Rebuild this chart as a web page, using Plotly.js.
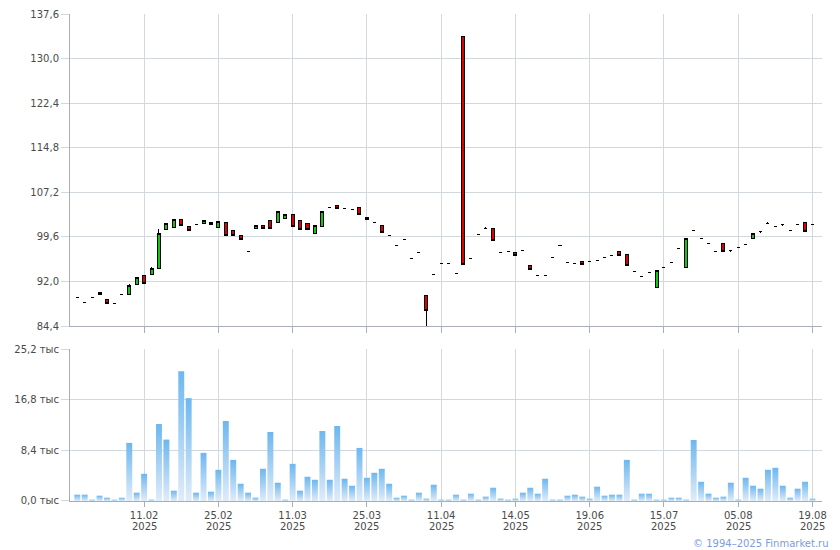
<!DOCTYPE html>
<html>
<head>
<meta charset="utf-8">
<script src="https://cdn.plot.ly/plotly-3.0.1.min.js"></script>
<style>
html,body{margin:0;padding:0;background:#fff;}
#chart{width:840px;height:550px;}
</style>
</head>
<body>
<div id="chart"></div>
<script>
// Trading days (category axis)
const dates = [
"29.01.2025","30.01.2025","31.01.2025","03.02.2025","04.02.2025","05.02.2025","06.02.2025","07.02.2025","10.02.2025","11.02.2025",
"12.02.2025","13.02.2025","14.02.2025","17.02.2025","18.02.2025","19.02.2025","20.02.2025","21.02.2025","24.02.2025","25.02.2025",
"26.02.2025","27.02.2025","28.02.2025","03.03.2025","04.03.2025","05.03.2025","06.03.2025","07.03.2025","10.03.2025","11.03.2025",
"12.03.2025","13.03.2025","14.03.2025","17.03.2025","18.03.2025","19.03.2025","20.03.2025","21.03.2025","24.03.2025","25.03.2025",
"26.03.2025","27.03.2025","28.03.2025","31.03.2025","01.04.2025","02.04.2025","04.04.2025","08.04.2025","09.04.2025","11.04.2025",
"15.04.2025","17.04.2025","21.04.2025","23.04.2025","25.04.2025","29.04.2025","05.05.2025","07.05.2025","12.05.2025","14.05.2025",
"16.05.2025","20.05.2025","23.05.2025","28.05.2025","30.05.2025","04.06.2025","06.06.2025","11.06.2025","17.06.2025","19.06.2025",
"23.06.2025","25.06.2025","27.06.2025","01.07.2025","03.07.2025","07.07.2025","09.07.2025","10.07.2025","14.07.2025","15.07.2025",
"17.07.2025","18.07.2025","21.07.2025","22.07.2025","24.07.2025","25.07.2025","28.07.2025","30.07.2025","01.08.2025","05.08.2025",
"06.08.2025","07.08.2025","08.08.2025","11.08.2025","12.08.2025","13.08.2025","14.08.2025","15.08.2025","18.08.2025","19.08.2025"
];

const opens = [89.2,88.45,89.2,90.14,89.0,88.3,89.8,89.75,91.44,93.0,
93.13,94.2,100.9,101.12,102.64,101.29,101.68,101.8,101.63,101.12,
102.13,100.61,99.77,97.07,101.06,101.46,102.47,102.08,102.75,103.48,
102.47,101.96,100.22,101.4,104.67,105.0,104.38,104.33,104.67,102.64,
102.13,101.46,99.77,98.08,99.09,95.88,96.95,89.63,93.18,95.04,
95.04,93.35,133.7,95.88,99.94,101.06,100.95,96.9,97.07,96.9,
97.23,94.7,93.0,93.0,96.05,98.08,95.2,95.1,95.38,95.38,
95.55,96.05,96.39,97.07,96.56,93.69,92.84,93.52,90.93,94.36,
95.2,97.57,94.31,100.61,99.26,98.42,97.07,98.42,97.23,97.74,
98.25,99.26,100.44,101.96,101.29,101.63,100.61,101.63,102.13,101.63];

const highs = [89.2,88.45,89.2,90.14,89.0,88.3,89.8,91.5,92.67,93.0,
94.42,100.95,101.96,102.64,102.64,101.29,101.68,102.47,102.02,102.3,
102.13,100.61,99.77,97.07,101.46,101.46,102.47,103.99,103.48,103.48,
102.47,101.96,101.46,103.99,104.67,105.0,104.38,104.33,104.67,102.98,
102.13,101.46,99.77,98.08,99.09,95.88,96.95,89.63,93.18,95.04,
95.04,93.35,133.7,95.88,99.94,101.3,100.95,96.9,97.07,96.9,
97.23,94.7,93.0,93.0,96.05,98.08,95.2,95.1,95.38,95.38,
95.55,96.05,96.39,97.07,96.56,93.69,92.84,93.52,93.86,94.36,
95.2,97.57,99.26,100.61,99.26,98.42,97.07,98.42,97.23,97.74,
98.25,100.11,100.44,102.15,101.29,101.63,100.61,101.63,102.13,101.63];

const lows = [89.2,88.45,89.2,89.75,88.2,88.3,89.8,89.75,91.44,91.66,
93.13,94.2,100.9,101.12,101.57,100.73,101.68,101.8,101.63,101.12,
99.88,99.88,99.2,97.07,101.06,101.06,101.06,102.08,102.75,101.4,
100.9,100.9,100.22,101.4,104.67,104.44,104.38,104.33,103.48,102.64,
102.13,100.27,99.77,98.08,99.09,95.88,96.95,84.2,93.18,95.04,
95.04,93.35,94.81,95.88,99.94,101.06,99.04,96.9,97.07,96.5,
97.23,94.03,93.0,93.0,96.05,98.08,95.2,95.1,94.81,95.38,
95.55,96.05,96.39,96.5,94.7,93.69,92.84,93.52,90.93,94.36,
95.2,97.57,94.31,100.61,99.26,98.42,97.07,97.07,97.0,97.74,
98.25,99.26,100.25,101.96,101.29,101.45,100.61,101.63,100.55,101.63];

const closes = [89.2,88.45,89.2,89.75,88.2,88.3,89.8,91.38,92.67,91.66,
94.2,100.16,101.96,102.64,101.57,100.73,101.68,102.47,102.02,102.3,
99.88,99.88,99.2,97.07,101.46,101.06,101.06,103.99,103.48,101.4,
100.9,100.9,101.46,103.99,104.67,104.44,104.38,104.33,103.48,102.98,
102.13,100.27,99.77,98.08,99.09,95.88,96.95,87.04,93.18,95.04,
95.04,93.35,94.81,95.88,99.94,101.06,99.04,96.9,97.07,96.5,
97.23,94.03,93.0,93.0,96.05,98.08,95.2,95.1,94.81,95.38,
95.55,96.05,96.39,96.5,94.7,93.69,92.84,93.52,93.86,94.36,
95.2,97.57,99.26,100.61,99.26,98.42,97.07,97.07,97.23,97.74,
98.25,100.11,100.44,101.96,101.29,101.63,100.61,101.63,100.55,101.63];

// Volume, thousands
const volumes = [1.05,1.05,0.22,0.88,0.55,0.22,0.55,9.63,1.38,4.51,
0.22,12.76,10.18,1.71,21.5,17.05,1.38,7.98,1.54,5.17,
13.26,6.82,2.86,1.38,0.55,5.34,11.44,3.03,0.22,6.16,
1.71,4.02,3.52,11.6,3.52,12.43,3.69,2.53,8.8,3.85,
4.68,5.34,2.86,0.55,0.88,0.22,1.38,0.39,2.7,0.22,
0.22,1.05,0.22,1.21,0.22,0.72,2.2,0.39,0.22,0.39,
1.38,2.2,1.21,3.69,0.22,0.22,0.88,1.05,0.72,0.39,
2.37,0.88,1.05,1.05,6.82,0.22,1.21,1.21,0.22,0.22,
0.55,0.55,0.22,10.12,3.19,1.21,0.55,0.72,3.03,0.22,
3.85,2.53,2.04,5.17,5.5,2.53,0.55,2.04,3.19,0.39];

const tickDates = ["11.02.2025","25.02.2025","11.03.2025","25.03.2025","11.04.2025","14.05.2025","19.06.2025","15.07.2025","05.08.2025","19.08.2025"];
const priceTicks = [84.4,92.0,99.6,107.2,114.8,122.4,130.0,137.6];
const volumeTicks = [0,8.4,16.8,25.2];

const fmt = v => v.toFixed(1).replace('.', ',');
const tickDayMonth = tickDates.map(d => d.slice(0,5));
const tickYear = tickDates.map(d => d.slice(6));

const FONT = 'DejaVu Sans, Verdana, sans-serif';
const GRID = '#d3d8dc';
const AXIS = '#a9adb6';
const TICKFONT = {family: FONT, size: 10, color: '#4a4a4a'};

const xCommon = {
  type: 'category',
  range: [-0.98, 100.28],
  tickmode: 'array',
  tickvals: tickDates,
  showgrid: true, gridcolor: GRID, gridwidth: 1,
  showline: true, linecolor: AXIS, linewidth: 1,
  ticks: 'outside', ticklen: 6, tickcolor: AXIS,
  zeroline: false,
  rangeslider: {visible: false},
  fixedrange: true
};

const data = [
  {
    type: 'candlestick',
    x: dates, open: opens, high: highs, low: lows, close: closes,
    xaxis: 'x', yaxis: 'y',
    increasing: {line: {color: '#000000', width: 1}, fillcolor: '#10c810'},
    decreasing: {line: {color: '#000000', width: 1}, fillcolor: '#dd0000'},
    whiskerwidth: 0,
    hoverinfo: 'none',
    showlegend: false
  },
  {
    type: 'bar',
    x: dates, y: volumes,
    xaxis: 'x2', yaxis: 'y2',
    marker: {color: '#9fcdf3', line: {width: 0}},
    hoverinfo: 'none',
    showlegend: false
  }
];

const annotations = tickDates.map((d, i) => ({
  xref: 'x2', yref: 'paper', x: d, y: -0.0524, xanchor: 'center', yanchor: 'middle',
  text: tickYear[i], showarrow: false,
  font: TICKFONT
}));
annotations.push({
  xref: 'paper', yref: 'paper', x: 1.012, y: -0.0875, xanchor: 'right', yanchor: 'middle',
  text: '© 1994–2025 Finmarket.ru', showarrow: false,
  font: {family: FONT, size: 10, color: '#7b9ce2'}
});

const layout = {
  width: 840, height: 550,
  margin: {l: 70, r: 18, t: 14, b: 49},
  paper_bgcolor: '#ffffff', plot_bgcolor: '#ffffff',
  separators: ', ',
  font: {family: FONT, size: 10, color: '#4a4a4a'},
  showlegend: false,
  boxgap: 0.42,
  bargap: 0.2,
  xaxis: Object.assign({}, xCommon, {anchor: 'y', showticklabels: false}),
  xaxis2: Object.assign({}, xCommon, {anchor: 'y2', matches: 'x', showticklabels: true, ticktext: tickDayMonth, tickfont: TICKFONT, ticklen: 5}),
  yaxis: {
    domain: [0.3593, 1],
    range: [84.4, 137.6],
    tickmode: 'array', tickvals: priceTicks, ticktext: priceTicks.map(fmt),
    showgrid: true, gridcolor: GRID,
    showline: true, linecolor: AXIS,
    ticks: 'outside', ticklen: 8, tickcolor: GRID,
    tickfont: TICKFONT,
    zeroline: false, fixedrange: true
  },
  yaxis2: {
    domain: [0, 0.3121],
    range: [0, 25.2],
    tickmode: 'array', tickvals: volumeTicks, ticktext: volumeTicks.map(v => fmt(v) + ' тыс'),
    showgrid: true, gridcolor: GRID,
    showline: true, linecolor: AXIS,
    ticks: 'outside', ticklen: 8, tickcolor: GRID,
    tickfont: TICKFONT,
    zeroline: false, fixedrange: true
  },
  annotations: annotations
};

Plotly.newPlot('chart', data, layout, {displayModeBar: false, staticPlot: true}).then(gd => {
  const svg = gd.querySelector('.main-svg');
  let defs = svg.querySelector('defs');
  const NS = 'http://www.w3.org/2000/svg';
  if (!defs) { defs = document.createElementNS(NS, 'defs'); svg.insertBefore(defs, svg.firstChild); }
  const grad = document.createElementNS(NS, 'linearGradient');
  grad.setAttribute('id', 'volGrad');
  grad.setAttribute('x1', '0'); grad.setAttribute('y1', '0');
  grad.setAttribute('x2', '0'); grad.setAttribute('y2', '1');
  [['0', '#6db7f0'], ['1', '#e0ecf9']].forEach(([o, c]) => {
    const s = document.createElementNS(NS, 'stop');
    s.setAttribute('offset', o); s.setAttribute('stop-color', c);
    grad.appendChild(s);
  });
  defs.appendChild(grad);
  gd.querySelectorAll('.barlayer .trace.bars path').forEach(p => { p.style.fill = 'url(#volGrad)'; });
  gd.querySelectorAll('.boxlayer path').forEach(p => { p.style.shapeRendering = 'crispEdges'; });
});
</script>
</body>
</html>
